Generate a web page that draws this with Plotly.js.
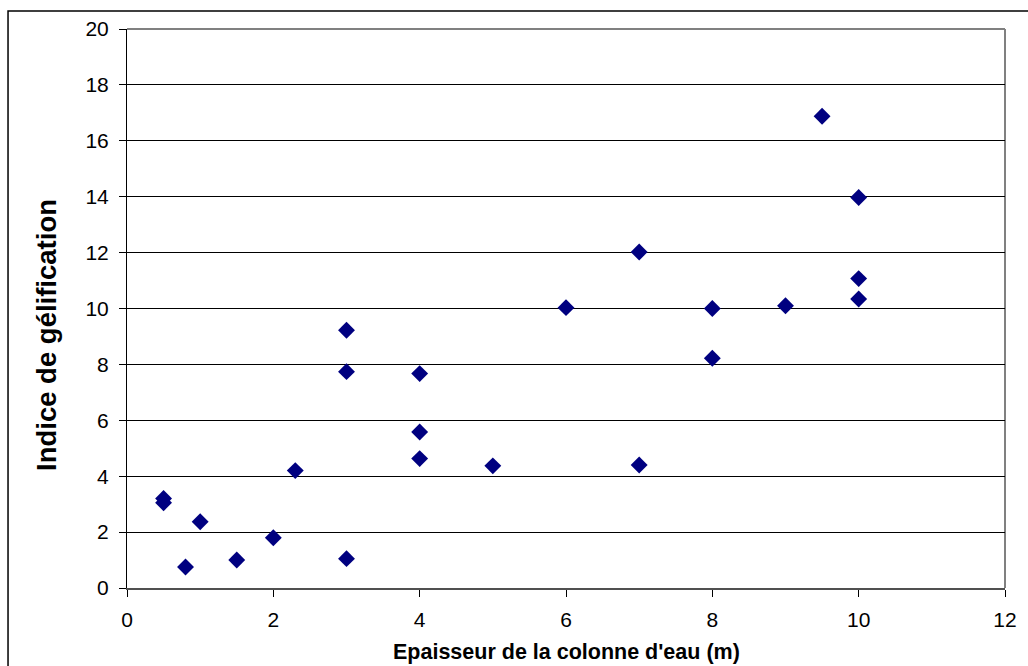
<!DOCTYPE html>
<html>
<head>
<meta charset="utf-8">
<script src="https://cdn.plot.ly/plotly-3.0.1.min.js"></script>
<style>
html,body{margin:0;padding:0;background:#fff;}
#chart{width:1028px;height:666px;}
</style>
</head>
<body>
<div id="chart"></div>
<script>
const epaisseur = [0.5, 0.5, 0.8, 1.0, 1.5, 2.0, 2.3, 3, 3, 3, 4, 4, 4, 5, 6, 7, 7, 8, 8, 9, 9.5, 10, 10, 10];
const indice    = [3.2, 3.05, 0.75, 2.37, 1.0, 1.8, 4.2, 1.05, 9.22, 7.74, 7.67, 5.58, 4.63, 4.37, 10.03, 12.02, 4.4, 10.0, 8.22, 10.1, 16.88, 13.97, 11.07, 10.34];
const xTitle = "Epaisseur de la colonne d'eau (m)";
const yTitle = "Indice de gélification";

const font = "Liberation Sans, Arial, sans-serif";

const trace = {
  x: epaisseur, y: indice, type: 'scatter', mode: 'markers',
  marker: {symbol: 'diamond', size: 13, color: '#000080', line: {width: 0}},
  hoverinfo: 'x+y'
};

const layout = {
  width: 1028, height: 666,
  margin: {l: 127, r: 23, t: 29, b: 78},
  paper_bgcolor: '#fff', plot_bgcolor: '#fff',
  showlegend: false,
  font: {family: font, color: '#000', size: 21},
  xaxis: {
    range: [0, 12], dtick: 2, tick0: 0,
    showgrid: false, zeroline: false,
    showline: true, linecolor: '#505050', linewidth: 2,
    ticks: 'outside', ticklen: 7, tickcolor: '#000', tickwidth: 1,
    ticklabelstandoff: 5,
    tickfont: {family: font, size: 21, color: '#000'}
  },
  yaxis: {
    range: [0, 20], dtick: 2, tick0: 0,
    showgrid: true, gridcolor: '#000', gridwidth: 1,
    zeroline: false,
    showline: true, linecolor: '#000', linewidth: 1,
    ticks: 'outside', ticklen: 7, tickcolor: '#000', tickwidth: 1,
    ticklabelstandoff: 6,
    tickfont: {family: font, size: 21, color: '#000'}
  },
  shapes: [
    {type: 'line', xref: 'paper', yref: 'paper', x0: 0, x1: 1, y0: 1, y1: 1,
     line: {color: '#808080', width: 2}, layer: 'below'},
    {type: 'line', xref: 'paper', yref: 'paper', x0: 1, x1: 1, y0: 0, y1: 1,
     line: {color: '#808080', width: 2}, layer: 'below'},
    {type: 'rect', xref: 'paper', yref: 'paper',
     x0: -0.1355, x1: 1.04, y0: -0.2, y1: 1.0322,
     line: {color: '#000', width: 1.5}, fillcolor: 'rgba(0,0,0,0)', layer: 'below'}
  ],
  annotations: [
    {text: '<b>' + xTitle + '</b>', xref: 'paper', yref: 'paper',
     x: (566 - 127) / 878, y: (588 - 652) / 559, xanchor: 'center', yanchor: 'middle',
     showarrow: false, font: {family: font, size: 21.5, color: '#000'}},
    {text: '<b>' + yTitle + '</b>', xref: 'paper', yref: 'paper',
     x: (46 - 127) / 878, y: (588 - 335) / 559, xanchor: 'center', yanchor: 'middle',
     textangle: -90, showarrow: false, font: {family: font, size: 27.5, color: '#000'}}
  ]
};

Plotly.newPlot('chart', [trace], layout, {displayModeBar: false, staticPlot: true});
</script>
</body>
</html>
